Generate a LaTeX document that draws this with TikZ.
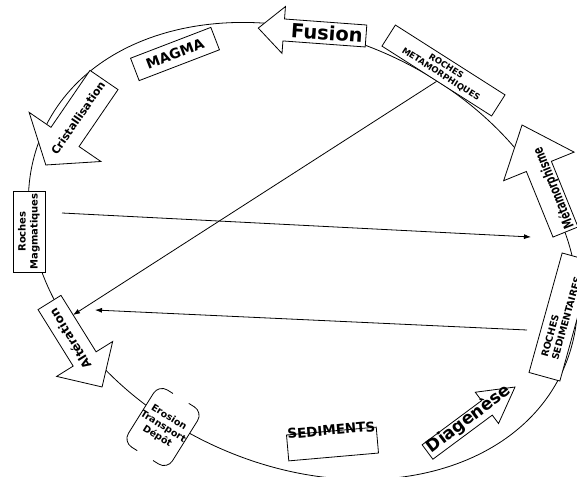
\documentclass[tikz,border=0pt]{standalone}
\usepackage{fontspec}
\setmainfont{DejaVu Sans}
\newfontfamily\etroite{DejaVu Sans}[FakeStretch=0.68]
\usetikzlibrary{arrows.meta,calc}
\newcommand{\grossefleche}[6]{%
    \draw[fleche,shift={#1},rotate=#2]
        (0,{#4/2})--({#3-#5},{#4/2})--({#3-#5},{#6/2})--(#3,0)
        --({#3-#5},{-#6/2})--({#3-#5},{-#4/2})--(0,{-#4/2})--cycle;}
\begin{document}
\begin{tikzpicture}[x=1pt,y=-1pt,
        boite/.style={draw,fill=white,line width=0.8pt,inner sep=1pt,align=center},
        fleche/.style={draw,fill=white,line width=0.8pt},
        legende/.style={inner sep=0pt},
        lien/.style={line width=0.8pt,-{Latex[length=7pt,width=5pt]}}]
                \useasboundingbox(0,0)rectangle(577,476);
                \clip(0,0)rectangle(577,476);
                \draw[line width=0.8pt,rotate around={-25:(303,251)}](303,251)ellipse[x radius=286pt,y radius=214pt];
                \grossefleche{(366,36)}{175.8}{108}{22}{25.5}{47}
                \grossefleche{(104,80)}{235.6}{103}{34}{34}{87}
                \grossefleche{(49.5,302.5)}{-58.1}{99.5}{27}{33}{66}
                \grossefleche{(565.5,232)}{112.1}{115.5}{27}{44.7}{76}
                \grossefleche{(427.5,452)}{36.6}{109}{18}{35}{39}
                \node[boite,rotate=21,minimum width=86pt,minimum height=24pt,font=\bfseries\fontsize{14}{16}\selectfont](magma)at(175,54){MAGMA};
                \node[boite,rotate=-32.5,minimum width=130pt,minimum height=25pt,font=\bfseries\fontsize{8.5}{9.5}\selectfont](rmeta)at(443.5,70.5){ROCHES\\METAMORPHIQUES};
                \node[boite,rotate=90,minimum width=81pt,minimum height=32pt,font=\bfseries\fontsize{10}{12}\selectfont](rmag)at(29,231.5){Roches\\Magmatiques};
                \node[boite,rotate=74.5,minimum width=124pt,minimum height=32pt,align=left,font=\bfseries\fontsize{9.5}{11}\selectfont](rsed)at(561,317){ROCHES\\SEDIMENTAIRES};
                \node[boite,rotate=5,minimum width=90pt,text height=4pt,text depth=22pt,inner ysep=0pt,font=\bfseries\fontsize{13.5}{14}\selectfont](sedim)at(332.5,444){SEDIMENTS};
                \node[fill=white,rounded corners=10pt,rotate=-32,minimum width=50pt,minimum height=67pt,inner sep=0pt,align=center,font=\bfseries\fontsize{9.5}{11}\selectfont](erosion)at(163,427){Erosion\\Transport\\Dépôt};
                \draw[rounded corners=10pt,line width=0.8pt]($(erosion.north west)!0.32!(erosion.north east)$)--(erosion.north west)--(erosion.south west)--($(erosion.south west)!0.32!(erosion.south east)$);
                \draw[rounded corners=10pt,line width=0.8pt]($(erosion.north east)!0.32!(erosion.north west)$)--(erosion.north east)--(erosion.south east)--($(erosion.south east)!0.32!(erosion.south west)$);
                \node[legende,rotate=-4,font=\bfseries\fontsize{19.5}{20}\selectfont](fusion)at(327,33){Fusion};
                \node[legende,rotate=55.6,font=\bfseries\fontsize{11}{12}\selectfont](cristal)at(78,118){Cristallisation};
                \node[legende,rotate=122,font=\bfseries\fontsize{12}{13}\selectfont](alter)at(70,339){Altération};
                \node[legende,rotate=112,font=\etroite\bfseries\fontsize{14}{15}\selectfont](metam)at(554,188){Métamorphisme};
                \node[legende,rotate=37,font=\bfseries\fontsize{17}{18}\selectfont](diag)at(469,419){Diagenèse};
                \coordinate(d1)at(62,213);
                \coordinate(f1)at(531,237);
                \coordinate(d2)at(527,330);
                \coordinate(f2)at(95,310);
                \coordinate(f3)at(73,315);
                \draw[lien](d1)--(f1);
                \draw[lien](d2)--(f2);
                \draw[lien](rmeta.south)--(f3);
            \end{tikzpicture}
\end{document}
